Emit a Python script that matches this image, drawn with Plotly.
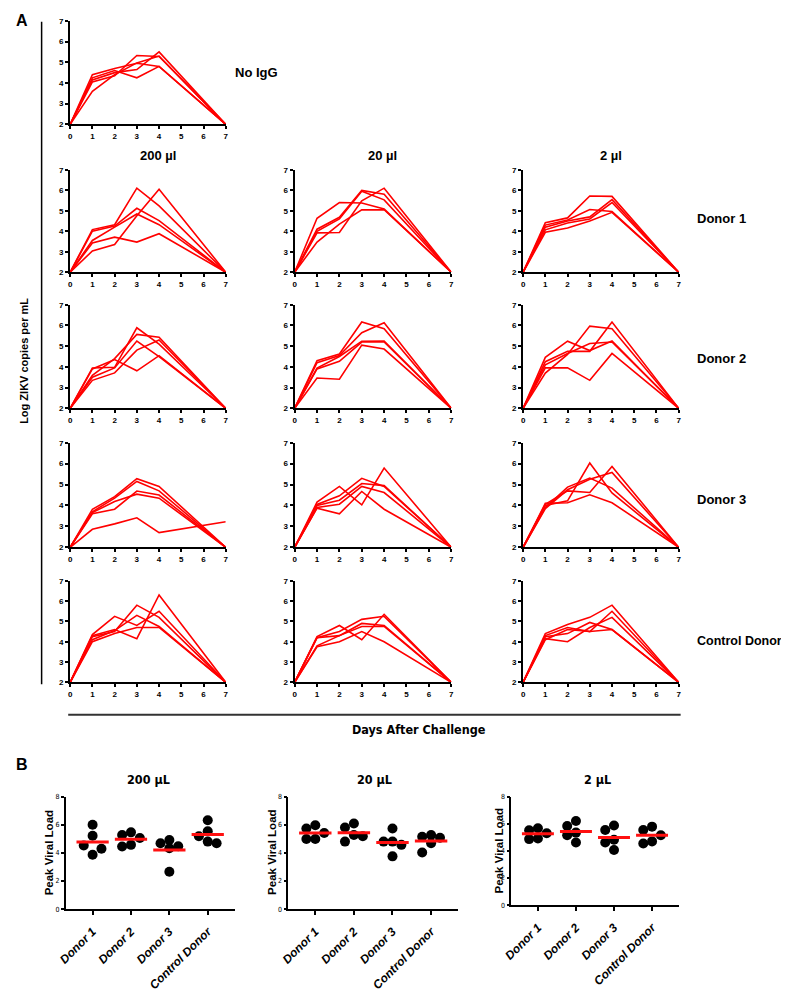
import plotly.graph_objects as go

# The page body keeps its default 8px margin, so the figure is drawn 8px in from the
# window's top-left corner; reference pixel coordinates are mapped accordingly.
OFF = 8
W, H = 789 - OFF, 992 - OFF
FONT = "Liberation Sans, Arial, sans-serif"
NARROW = "Liberation Sans Narrow, Arial Narrow, DejaVu Sans Condensed, sans-serif"
RED = "#ff0000"

# ---------------- data: panel A (log ZIKV copies per mL) ----------------
days = [0, 1, 2, 3, 4, 7]

no_igg = [
    [2, 4.40, 4.70, 4.95, 4.80, 2],
    [2, 4.25, 4.60, 4.25, 4.80, 2],
    [2, 4.05, 4.35, 5.33, 5.28, 2],
    [2, 4.15, 4.50, 4.65, 5.50, 2],
    [2, 3.60, 4.40, 4.97, 5.30, 2],
]

d1_200 = [
    [2, 3.04, 3.35, 4.75, 6.05, 2],
    [2, 4.08, 4.32, 6.10, 5.24, 2],
    [2, 4.00, 4.25, 5.12, 4.52, 2],
    [2, 3.55, 4.20, 4.84, 4.32, 2],
    [2, 3.43, 3.71, 3.47, 3.88, 2],
]
d1_20 = [
    [2, 4.63, 5.40, 5.38, 5.08, 2],
    [2, 3.92, 3.94, 5.48, 6.10, 2],
    [2, 4.10, 4.68, 5.99, 5.80, 2],
    [2, 4.00, 4.60, 5.95, 5.53, 2],
    [2, 3.47, 4.35, 5.04, 5.05, 2],
]
d1_2 = [
    [2, 4.42, 4.65, 5.72, 5.70, 2],
    [2, 4.30, 4.55, 5.06, 4.96, 2],
    [2, 4.20, 4.50, 4.70, 5.54, 2],
    [2, 4.07, 4.40, 4.60, 5.40, 2],
    [2, 3.95, 4.16, 4.50, 4.92, 2],
]

d2_200 = [
    [2, 3.95, 3.98, 5.89, 5.10, 2],
    [2, 3.90, 4.35, 3.81, 4.54, 2],
    [2, 3.59, 4.40, 5.57, 5.43, 2],
    [2, 3.50, 3.95, 5.25, 4.50, 2],
    [2, 3.35, 3.71, 4.81, 5.30, 2],
]
d2_20 = [
    [2, 4.30, 4.62, 6.17, 5.84, 2],
    [2, 4.20, 4.55, 5.65, 6.13, 2],
    [2, 3.94, 4.50, 5.24, 5.25, 2],
    [2, 3.90, 4.27, 5.20, 5.20, 2],
    [2, 3.46, 3.40, 5.05, 4.86, 2],
]
d2_2 = [
    [2, 4.46, 5.24, 4.79, 5.25, 2],
    [2, 3.95, 3.95, 3.35, 4.65, 2],
    [2, 3.70, 4.60, 5.97, 5.84, 2],
    [2, 4.25, 4.75, 4.75, 6.17, 2],
    [2, 4.10, 4.65, 5.13, 5.20, 2],
]

d3_200 = [
    [2, 3.82, 4.42, 5.28, 4.91, 2],
    [2, 3.70, 4.35, 5.15, 4.70, 2],
    [2, 3.66, 4.19, 4.54, 4.35, 2],
    [2, 3.60, 3.82, 4.69, 4.50, 2],
    [2, 2.86, 3.12, 3.41, 2.70, 3.22],
]
d3_20 = [
    [2, 4.16, 4.91, 4.03, 5.79, 2],
    [2, 3.87, 3.60, 4.67, 3.82, 2],
    [2, 4.05, 4.46, 5.30, 4.91, 2],
    [2, 4.00, 4.25, 5.05, 4.95, 2],
    [2, 3.90, 4.06, 4.91, 4.62, 2],
]
d3_2 = [
    [2, 4.00, 4.22, 6.03, 4.60, 2],
    [2, 3.90, 4.88, 5.31, 4.83, 2],
    [2, 4.05, 4.70, 4.62, 5.87, 2],
    [2, 3.85, 4.75, 5.25, 5.58, 2],
    [2, 4.10, 4.13, 4.51, 4.13, 2],
]

ctrl_200 = [
    [2, 4.35, 5.25, 4.80, 5.50, 2],
    [2, 4.30, 4.60, 4.15, 6.30, 2],
    [2, 4.25, 4.50, 5.80, 5.20, 2],
    [2, 4.10, 4.55, 5.30, 4.75, 2],
    [2, 4.00, 4.40, 4.70, 4.70, 2],
]
ctrl_20 = [
    [2, 4.25, 4.80, 4.10, 5.35, 2],
    [2, 4.20, 4.50, 5.10, 5.25, 2],
    [2, 4.20, 4.30, 4.90, 4.80, 2],
    [2, 3.80, 4.30, 4.75, 4.75, 2],
    [2, 3.75, 4.00, 4.50, 4.00, 2],
]
ctrl_2 = [
    [2, 4.40, 4.85, 5.20, 5.80, 2],
    [2, 4.30, 4.70, 4.50, 5.50, 2],
    [2, 4.25, 4.40, 4.95, 4.60, 2],
    [2, 4.15, 4.00, 4.70, 5.20, 2],
    [2, 4.10, 4.60, 4.50, 4.60, 2],
]

dose_titles_a = ["200 µl", "20 µl", "2 µl"]
row_labels = ["Donor 1", "Donor 2", "Donor 3", "Control Donor"]
x_ticks_a = [0, 1, 2, 3, 4, 5, 6, 7]
y_ticks_a = [2, 3, 4, 5, 6, 7]

# ---------------- data: panel B (peak viral load) ----------------
donors = ["Donor 1", "Donor 2", "Donor 3", "Control Donor"]
dose_titles_b = ["200 µL", "20 µL", "2 µL"]
peak_200 = [
    [4.52, 3.86, 6.00, 5.22, 4.29],
    [5.46, 4.45, 5.06, 5.27, 4.57],
    [4.92, 4.33, 4.68, 2.65, 4.47],
    [4.68, 6.32, 5.18, 5.53, 4.80],
]
peak_20 = [
    [5.97, 4.99, 5.41, 5.74, 4.99],
    [5.81, 4.80, 5.27, 6.09, 5.18],
    [4.57, 5.74, 4.80, 4.80, 3.75],
    [5.08, 4.68, 5.27, 4.03, 5.15],
]
peak_2 = [
    [5.67, 4.87, 5.30, 5.52, 4.92],
    [5.84, 5.35, 4.62, 6.20, 5.16],
    [5.54, 4.82, 4.07, 5.88, 4.62],
    [5.79, 5.16, 4.55, 5.54, 4.70],
]
y_ticks_b = [0, 2, 4, 6, 8]

# ---------------- layout helpers ----------------
def fx(x):
    return (x - OFF) / W

def fy(y):
    return 1 - (y - OFF) / H

fig = go.Figure()
layout = {}
annotations = []
shapes = []
counter = [0]

def new_axes():
    counter[0] += 1
    n = counter[0]
    return (("x" if n == 1 else f"x{n}"), ("y" if n == 1 else f"y{n}"),
            ("xaxis" if n == 1 else f"xaxis{n}"), ("yaxis" if n == 1 else f"yaxis{n}"))

tickfont_a = dict(size=8, family=FONT, color="black", weight="bold")

def add_line_panel(lines, x0, x1, ytop, ybot):
    xn, yn, xk, yk = new_axes()
    for vals in lines:
        fig.add_trace(go.Scatter(x=days, y=vals, mode="lines",
                                 line=dict(color=RED, width=1.6),
                                 xaxis=xn, yaxis=yn, showlegend=False,
                                 hoverinfo="skip"))
    common = dict(showline=True, linewidth=2, linecolor="black", ticks="outside",
                  ticklen=3, tickwidth=1.5, tickcolor="black", tickfont=tickfont_a,
                  showgrid=False, zeroline=False)
    layout[xk] = dict(domain=[fx(x0), fx(x1)], range=[0, 7], tickvals=x_ticks_a,
                      anchor=yn, **common)
    layout[yk] = dict(domain=[fy(ybot), fy(ytop)], range=[2, 7], tickvals=y_ticks_a,
                      anchor=xn, **common)

cols_a = [(62, 220), (290, 449), (522, 680)]
rows_a = [(168, 272), (305, 410), (445, 551), (585, 688)]
grid = [
    [d1_200, d1_20, d1_2],
    [d2_200, d2_20, d2_2],
    [d3_200, d3_20, d3_2],
    [ctrl_200, ctrl_20, ctrl_2],
]

add_line_panel(no_igg, cols_a[0][0], cols_a[0][1], 17, 122)
for r, (yt, yb) in enumerate(rows_a):
    for c, (x0, x1) in enumerate(cols_a):
        add_line_panel(grid[r][c], x0, x1, yt, yb)

def text(x, y, s, size, family=FONT, xanchor="center", angle=0, weight="bold"):
    annotations.append(dict(x=fx(x), y=fy(y), xref="paper", yref="paper", text=s,
                            showarrow=False, xanchor=xanchor, yanchor="middle",
                            textangle=angle,
                            font=dict(size=size, family=family, color="black",
                                      weight=weight)))

text(13, 17, "A", 16)
text(227, 69, "No IgG", 13, xanchor="left")
for (x0, x1), t in zip(cols_a, dose_titles_a):
    text((x0 + x1) / 2 + 10, 154, t, 13)
label_y = [217, 359, 503, 646]
for yy, t in zip(label_y, row_labels):
    text(697, yy, t, 13 if t != "Control Donor" else 12.5, xanchor="left")
text(15, 362, "Log ZIKV copies per mL", 11, angle=-90)
text(416, 736, "Days After Challenge", 12.5, family=NARROW)
shapes.append(dict(type="line", xref="paper", yref="paper", x0=fx(33), x1=fx(33),
                   y0=fy(18), y1=fy(690), line=dict(color="black", width=1.5)))
shapes.append(dict(type="line", xref="paper", yref="paper", x0=fx(60), x1=fx(682),
                   y0=fy(721), y1=fy(721), line=dict(color="#333333", width=2)))

# ---------------- panel B ----------------
text(13, 771, "B", 16)

PX_PER_UNIT_Y = 14.0
CAT_PX = 39.0
DOT = 10.0
SLOT = 9.0

def swarm_offsets(vals):
    order = sorted(range(len(vals)), key=lambda i: -vals[i])
    placed = []
    offs = [0.0] * len(vals)
    for i in order:
        best_s, best_d = 0, -1.0
        for s in [0, -1, 1]:
            dmin = 1e9
            for ps, pv in placed:
                dx = (s - ps) * SLOT
                dy = (vals[i] - pv) * PX_PER_UNIT_Y
                dmin = min(dmin, (dx * dx + dy * dy) ** 0.5)
            if dmin >= DOT:
                best_s = s
                break
            if dmin > best_d:
                best_s, best_d = s, dmin
        placed.append((best_s, vals[i]))
        offs[i] = best_s * SLOT / CAT_PX
    return offs

panels_b = [
    (peak_200, 57.5, 229, 804, 918, 142, 40),
    (peak_20, 283.5, 456, 804, 918, 371, 267),
    (peak_2, 510, 680, 804, 914, 598, 497),
]
for (data, x0, x1, yt, yb, tx, ytx), title in zip(panels_b, dose_titles_b):
    xn, yn, xk, yk = new_axes()
    for ci, vals in enumerate(data):
        offs = swarm_offsets(vals)
        fig.add_trace(go.Scatter(x=[ci + o for o in offs], y=vals, mode="markers",
                                 marker=dict(color="black", size=10),
                                 xaxis=xn, yaxis=yn, showlegend=False,
                                 hoverinfo="skip", cliponaxis=False))
        m = sum(vals) / len(vals)
        fig.add_trace(go.Scatter(x=[ci - 0.42, ci + 0.42], y=[m, m], mode="lines",
                                 line=dict(color="#ff1010", width=3),
                                 xaxis=xn, yaxis=yn, showlegend=False,
                                 hoverinfo="skip"))
    layout[xk] = dict(domain=[fx(x0), fx(x1)], range=[-0.7, 3.7], tickvals=[0, 1, 2, 3],
                      ticktext=donors, tickangle=-45, anchor=yn,
                      tickfont=dict(size=12, family=FONT, color="black", weight="bold",
                                    style="italic"),
                      ticklabelstandoff=5,
                      showline=True, linewidth=1.5, linecolor="black", ticks="outside",
                      ticklen=4, tickwidth=1.5, tickcolor="black", showgrid=False,
                      zeroline=False)
    layout[yk] = dict(domain=[fy(yb), fy(yt)], range=[0, 8], tickvals=y_ticks_b,
                      anchor=xn,
                      tickfont=dict(size=7, family=NARROW, color="black"),
                      showline=True, linewidth=1.5, linecolor="black", ticks="outside",
                      ticklen=3, tickwidth=1.5, tickcolor="black", showgrid=False,
                      zeroline=False)
    text(tx, 787, title, 12.5, family=NARROW)
    text(ytx, (yt + yb) / 2, "Peak Viral Load", 11.5, angle=-90)

fig.update_layout(width=W, height=H, autosize=False,
                  margin=dict(l=0, r=0, t=0, b=0),
                  paper_bgcolor="white", plot_bgcolor="white",
                  annotations=annotations, shapes=shapes, **layout)
fig.write_html("out.html")
